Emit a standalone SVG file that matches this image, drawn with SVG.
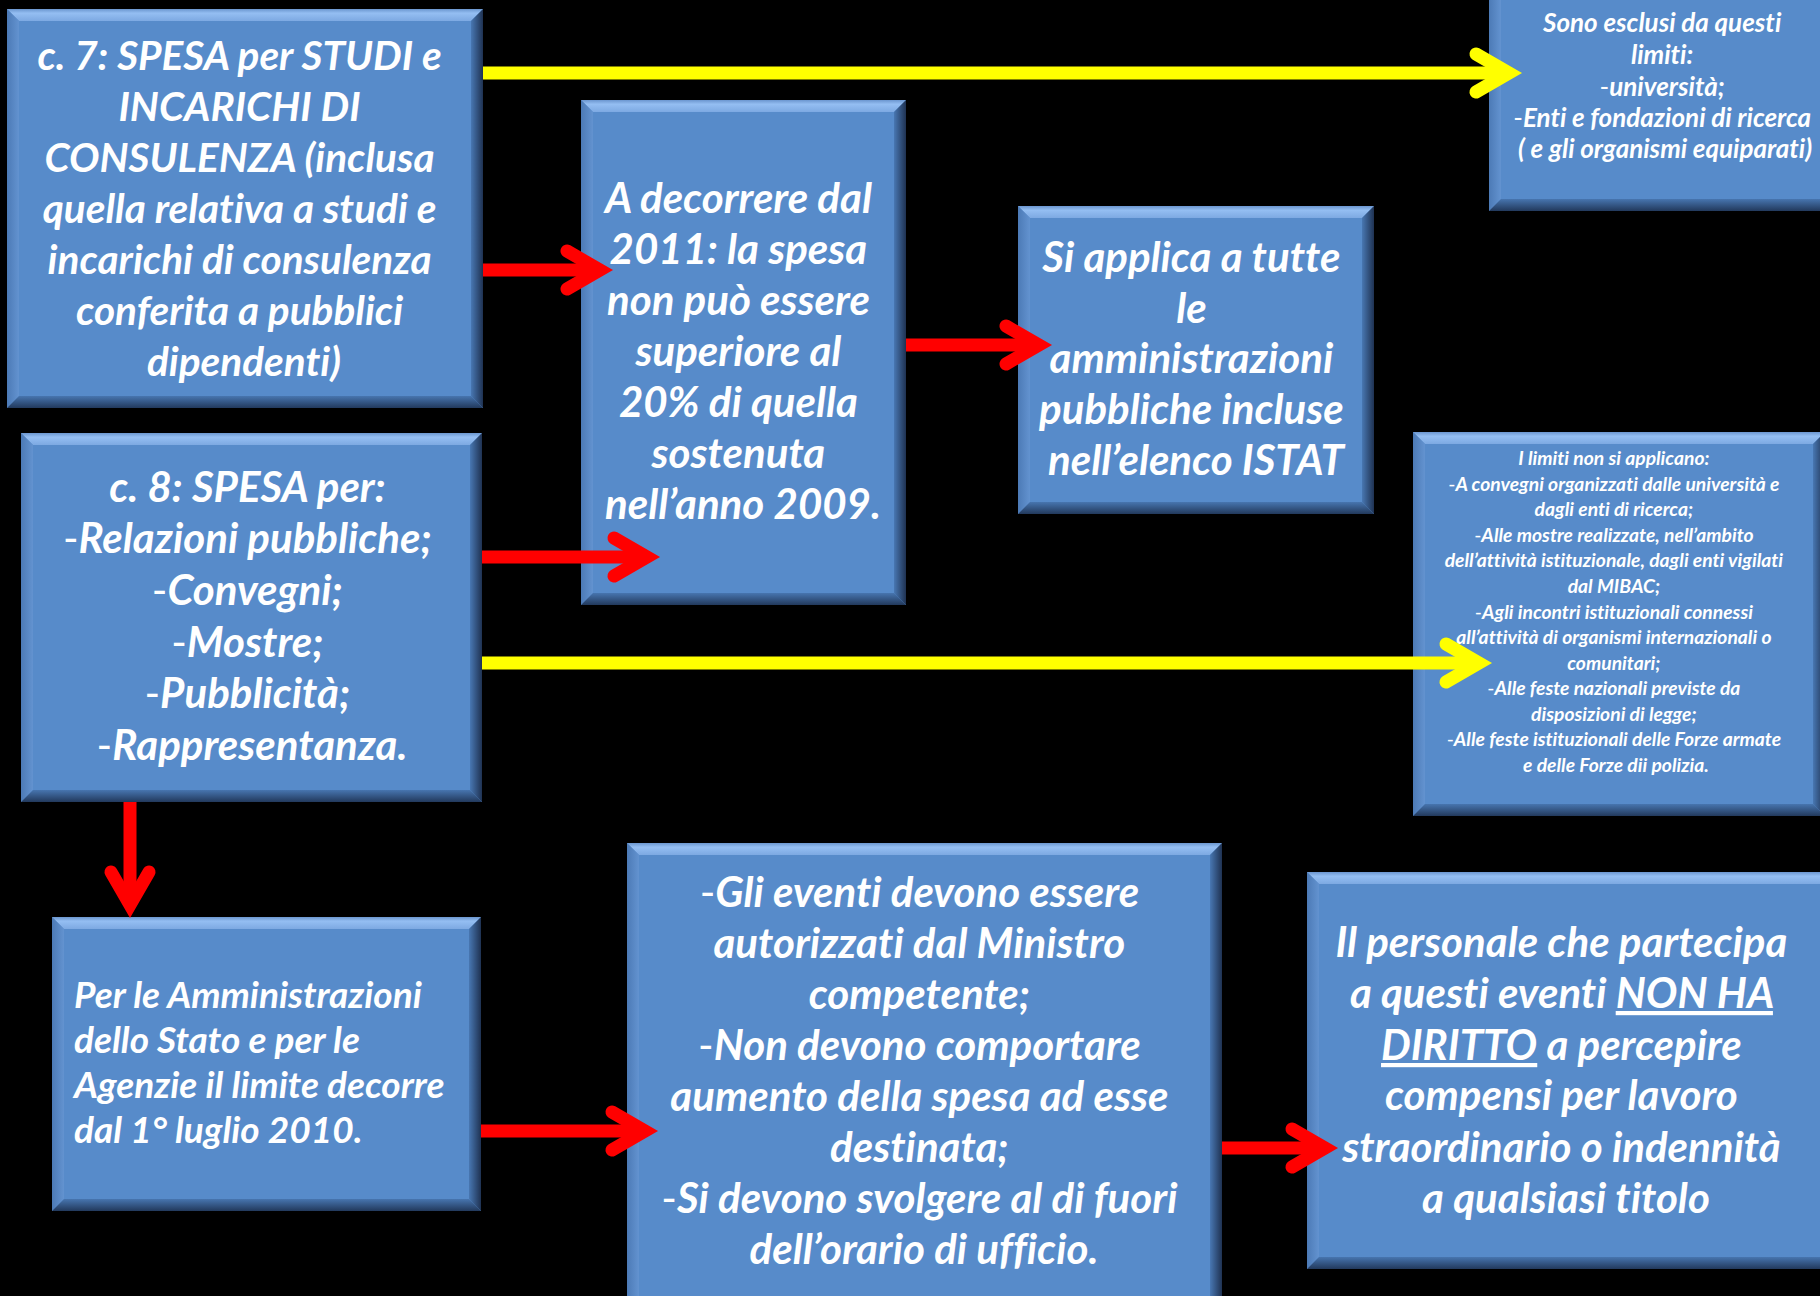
<svg xmlns="http://www.w3.org/2000/svg" width="1820" height="1296" viewBox="0 0 1820 1296">
<style>
.face{fill:#578BCA}
.bt{fill:url(#gT)}
.bl{fill:url(#gL)}
.br{fill:url(#gR)}
.bb{fill:url(#gB)}
.t{font-family:Lato,'Open Sans','Liberation Sans',sans-serif;font-weight:700;font-style:italic;fill:#fff;text-anchor:middle;font-variant-ligatures:none}
.tl{text-anchor:start}
.s41{font-size:40.5px}
.s42{font-size:42px}
.s26{font-size:26px}
.s19{font-size:19.3px}
.s37{font-size:37px}
.h{font-weight:400;font-style:normal}
.u{text-decoration:underline}
.red{stroke:#FF0000;stroke-width:13;fill:none}
.yel{stroke:#FFFF00;stroke-width:13;fill:none}
</style>
<defs>
<linearGradient id="gT" x1="0" y1="0" x2="0" y2="1"><stop offset="0" stop-color="#6B96CF"/><stop offset="0.35" stop-color="#94BEF2"/><stop offset="1" stop-color="#7DA9E2"/></linearGradient>
<linearGradient id="gL" x1="0" y1="0" x2="1" y2="0"><stop offset="0" stop-color="#4C7AB6"/><stop offset="1" stop-color="#6393D0"/></linearGradient>
<linearGradient id="gR" x1="0" y1="0" x2="1" y2="0"><stop offset="0" stop-color="#4877B2"/><stop offset="1" stop-color="#1F3252"/></linearGradient>
<linearGradient id="gB" x1="0" y1="0" x2="0" y2="1"><stop offset="0" stop-color="#4775AF"/><stop offset="1" stop-color="#22395C"/></linearGradient>
<marker id="hR" markerUnits="userSpaceOnUse" viewBox="-60 -32 70 64" markerWidth="70" markerHeight="64" refX="-15" refY="0" orient="auto">
<path d="M-46,-19 L-13,0 L-46,19" fill="none" stroke="#FF0000" stroke-width="13" stroke-linecap="round" stroke-linejoin="miter"/>
</marker>
<marker id="hY" markerUnits="userSpaceOnUse" viewBox="-60 -32 70 64" markerWidth="70" markerHeight="64" refX="-15" refY="0" orient="auto">
<path d="M-46,-19 L-13,0 L-46,19" fill="none" stroke="#FFFF00" stroke-width="13" stroke-linecap="round" stroke-linejoin="miter"/>
</marker>
</defs>
<rect x="0" y="0" width="1820" height="1296" fill="#000"/>

<g id="n1">
<rect class="face" x="7" y="9" width="476" height="399"/>
<path class="bt" d="M7 9 H483 L471 21 H19 Z"/>
<path class="bl" d="M7 9 L19 21 V396 L7 408 Z"/>
<path class="br" d="M483 9 V408 L471 396 V21 Z"/>
<path class="bb" d="M7 408 H483 L471 396 H19 Z"/>
<text class="t s41">
<tspan x="244" y="70">c. 7: SPESA per STUDI e</tspan>
<tspan x="244" y="121">INCARICHI DI</tspan>
<tspan x="244" y="172">CONSULENZA (inclusa</tspan>
<tspan x="244" y="223">quella relativa a studi e</tspan>
<tspan x="244" y="274">incarichi di consulenza</tspan>
<tspan x="244" y="325">conferita a pubblici</tspan>
<tspan x="244" y="376">dipendenti)</tspan>
</text>
</g>

<g id="n2">
<rect class="face" x="581" y="100" width="325" height="505"/>
<path class="bt" d="M581 100 H906 L894 112 H593 Z"/>
<path class="bl" d="M581 100 L593 112 V593 L581 605 Z"/>
<path class="br" d="M906 100 V605 L894 593 V112 Z"/>
<path class="bb" d="M581 605 H906 L894 593 H593 Z"/>
<text class="t s42">
<tspan x="743" y="213">A decorrere dal</tspan>
<tspan x="743" y="264">2011: la spesa</tspan>
<tspan x="743" y="315">non può essere</tspan>
<tspan x="743" y="366">superiore al</tspan>
<tspan x="743" y="417">20% di quella</tspan>
<tspan x="743" y="468">sostenuta</tspan>
<tspan x="743" y="519">nell’anno 2009.</tspan>
</text>
</g>

<g id="n3">
<rect class="face" x="1018" y="206" width="356" height="308"/>
<path class="bt" d="M1018 206 H1374 L1362 218 H1030 Z"/>
<path class="bl" d="M1018 206 L1030 218 V502 L1018 514 Z"/>
<path class="br" d="M1374 206 V514 L1362 502 V218 Z"/>
<path class="bb" d="M1018 514 H1374 L1362 502 H1030 Z"/>
<text class="t s42">
<tspan x="1196" y="272">Si applica a tutte</tspan>
<tspan x="1196" y="323">le</tspan>
<tspan x="1196" y="373">amministrazioni</tspan>
<tspan x="1196" y="424">pubbliche incluse</tspan>
<tspan x="1196" y="475">nell’elenco ISTAT</tspan>
</text>
</g>

<g id="n4">
<rect class="face" x="1489" y="-20" width="360" height="231"/>
<path class="bt" d="M1489 -20 H1849 L1837 -8 H1501 Z"/>
<path class="bl" d="M1489 -20 L1501 -8 V199 L1489 211 Z"/>
<path class="br" d="M1849 -20 V211 L1837 199 V-8 Z"/>
<path class="bb" d="M1489 211 H1849 L1837 199 H1501 Z"/>
<text class="t s26">
<tspan x="1665" y="32">Sono esclusi da questi</tspan>
<tspan x="1665" y="64">limiti:</tspan>
<tspan x="1665" y="96"><tspan class="h">-</tspan>università;</tspan>
<tspan x="1665" y="127"><tspan class="h">-</tspan>Enti e fondazioni di ricerca</tspan>
<tspan x="1665" y="158">( e gli organismi equiparati)</tspan>
</text>
</g>

<g id="n5">
<rect class="face" x="21" y="433" width="461" height="369"/>
<path class="bt" d="M21 433 H482 L470 445 H33 Z"/>
<path class="bl" d="M21 433 L33 445 V790 L21 802 Z"/>
<path class="br" d="M482 433 V802 L470 790 V445 Z"/>
<path class="bb" d="M21 802 H482 L470 790 H33 Z"/>
<text class="t s42">
<tspan x="252" y="502">c. 8: SPESA per:</tspan>
<tspan x="252" y="553"><tspan class="h">-</tspan>Relazioni pubbliche;</tspan>
<tspan x="252" y="605"><tspan class="h">-</tspan>Convegni;</tspan>
<tspan x="252" y="657"><tspan class="h">-</tspan>Mostre;</tspan>
<tspan x="252" y="708"><tspan class="h">-</tspan>Pubblicità;</tspan>
<tspan x="252" y="760"><tspan class="h">-</tspan>Rappresentanza.</tspan>
</text>
</g>

<g id="n6">
<rect class="face" x="1413" y="432" width="412" height="384"/>
<path class="bt" d="M1413 432 H1825 L1813 444 H1425 Z"/>
<path class="bl" d="M1413 432 L1425 444 V804 L1413 816 Z"/>
<path class="br" d="M1825 432 V816 L1813 804 V444 Z"/>
<path class="bb" d="M1413 816 H1825 L1813 804 H1425 Z"/>
<text class="t s19">
<tspan x="1616" y="465">I limiti non si applicano:</tspan>
<tspan x="1616" y="491"><tspan class="h">-</tspan>A convegni organizzati dalle università e</tspan>
<tspan x="1616" y="516">dagli enti di ricerca;</tspan>
<tspan x="1616" y="542"><tspan class="h">-</tspan>Alle mostre realizzate, nell’ambito</tspan>
<tspan x="1616" y="567">dell’attività istituzionale, dagli enti vigilati</tspan>
<tspan x="1616" y="593">dal MIBAC;</tspan>
<tspan x="1616" y="619"><tspan class="h">-</tspan>Agli incontri istituzionali connessi</tspan>
<tspan x="1616" y="644">all’attività di organismi internazionali o</tspan>
<tspan x="1616" y="670">comunitari;</tspan>
<tspan x="1616" y="695"><tspan class="h">-</tspan>Alle feste nazionali previste da</tspan>
<tspan x="1616" y="721">disposizioni di legge;</tspan>
<tspan x="1616" y="746"><tspan class="h">-</tspan>Alle feste istituzionali delle Forze armate</tspan>
<tspan x="1616" y="772">e delle Forze dii polizia.</tspan>
</text>
</g>

<g id="n7">
<rect class="face" x="52" y="917" width="429" height="294"/>
<path class="bt" d="M52 917 H481 L469 929 H64 Z"/>
<path class="bl" d="M52 917 L64 929 V1199 L52 1211 Z"/>
<path class="br" d="M481 917 V1211 L469 1199 V929 Z"/>
<path class="bb" d="M52 1211 H481 L469 1199 H64 Z"/>
<text class="t tl s37">
<tspan x="74" y="1008">Per le Amministrazioni</tspan>
<tspan x="74" y="1053">dello Stato e per le</tspan>
<tspan x="74" y="1098">Agenzie il limite decorre</tspan>
<tspan x="74" y="1143">dal 1° luglio 2010.</tspan>
</text>
</g>

<g id="n8">
<rect class="face" x="627" y="843" width="595" height="467"/>
<path class="bt" d="M627 843 H1222 L1210 855 H639 Z"/>
<path class="bl" d="M627 843 L639 855 V1298 L627 1310 Z"/>
<path class="br" d="M1222 843 V1310 L1210 1298 V855 Z"/>
<path class="bb" d="M627 1310 H1222 L1210 1298 H639 Z"/>
<text class="t s42">
<tspan x="924" y="907"><tspan class="h">-</tspan>Gli eventi devono essere</tspan>
<tspan x="924" y="958">autorizzati dal Ministro</tspan>
<tspan x="924" y="1009">competente;</tspan>
<tspan x="924" y="1060"><tspan class="h">-</tspan>Non devono comportare</tspan>
<tspan x="924" y="1111">aumento della spesa ad esse</tspan>
<tspan x="924" y="1162">destinata;</tspan>
<tspan x="924" y="1213"><tspan class="h">-</tspan>Si devono svolgere al di fuori</tspan>
<tspan x="924" y="1264">dell’orario di ufficio.</tspan>
</text>
</g>

<g id="n9">
<rect class="face" x="1307" y="872" width="528" height="397"/>
<path class="bt" d="M1307 872 H1835 L1823 884 H1319 Z"/>
<path class="bl" d="M1307 872 L1319 884 V1257 L1307 1269 Z"/>
<path class="br" d="M1835 872 V1269 L1823 1257 V884 Z"/>
<path class="bb" d="M1307 1269 H1835 L1823 1257 H1319 Z"/>
<text class="t s42">
<tspan x="1566" y="957">Il personale che partecipa</tspan>
<tspan x="1566" y="1008">a questi eventi <tspan class="u">NON HA</tspan></tspan>
<tspan x="1566" y="1060"><tspan class="u">DIRITTO</tspan> a percepire</tspan>
<tspan x="1566" y="1110">compensi per lavoro</tspan>
<tspan x="1566" y="1162">straordinario o indennità</tspan>
<tspan x="1566" y="1213">a qualsiasi titolo</tspan>
</text>
</g>

<g id="connectors">
<line class="yel" x1="483" y1="73" x2="1507" y2="73" marker-end="url(#hY)"/>
<line class="red" x1="483" y1="270" x2="598" y2="270" marker-end="url(#hR)"/>
<line class="red" x1="482" y1="557" x2="645" y2="557" marker-end="url(#hR)"/>
<line class="red" x1="906" y1="345" x2="1037" y2="345" marker-end="url(#hR)"/>
<line class="yel" x1="482" y1="663" x2="1477" y2="663" marker-end="url(#hY)"/>
<line class="red" x1="130" y1="802" x2="130" y2="903" marker-end="url(#hR)"/>
<line class="red" x1="481" y1="1131" x2="643" y2="1131" marker-end="url(#hR)"/>
<line class="red" x1="1222" y1="1148" x2="1323" y2="1148" marker-end="url(#hR)"/>
</g>
</svg>
